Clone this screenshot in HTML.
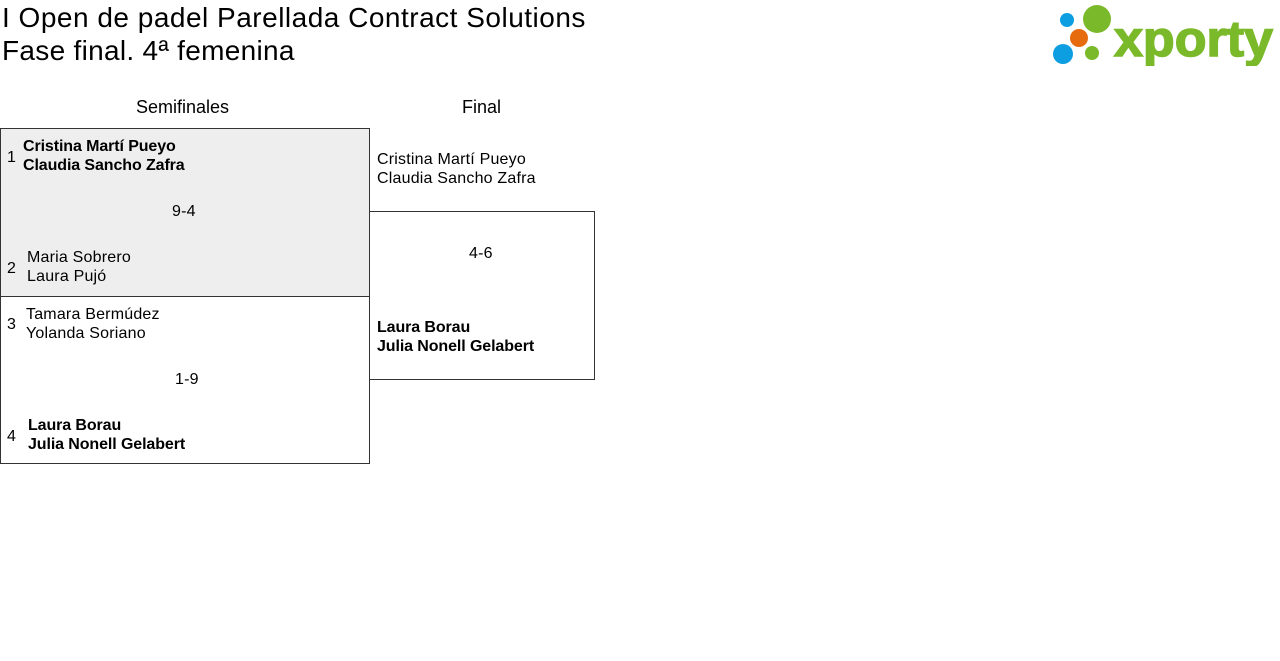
<!DOCTYPE html>
<html><head><meta charset="utf-8"><style>
body{margin:0;width:1280px;height:661px;background:#fff;font-family:"Liberation Sans",sans-serif;color:#000;position:relative;overflow:hidden}
.a{position:absolute;white-space:nowrap}
.t{font-size:28px;line-height:33px;left:2px}
.h{font-size:18px;line-height:20px}
.n{font-size:16px;line-height:19px;letter-spacing:0.2px}
.b{font-weight:bold;letter-spacing:-0.1px}
.box{position:absolute;border:1px solid #333;box-sizing:border-box}
</style></head><body>
<div class="a t" style="top:1px;letter-spacing:0.5px">I Open de padel Parellada Contract Solutions</div>
<div class="a t" style="top:34px;letter-spacing:0.3px">Fase final. 4ª femenina</div>
<svg class="a" style="left:1050px;top:4px" width="226" height="62">
<circle cx="17" cy="16" r="7" fill="#0d9ee2"/>
<circle cx="47" cy="15" r="14" fill="#7ab929"/>
<circle cx="29" cy="34" r="9" fill="#e56b0e"/>
<circle cx="13" cy="50" r="10" fill="#0d9ee2"/>
<circle cx="42" cy="49" r="7" fill="#7ab929"/>
<text x="64" y="52" font-family="Liberation Sans,sans-serif" font-weight="bold" font-size="50" fill="#7ab929" stroke="#7ab929" stroke-width="1.5" textLength="159" lengthAdjust="spacingAndGlyphs">xporty</text>
</svg>
<div class="a h" style="left:136px;top:97px">Semifinales</div>
<div class="a h" style="left:462px;top:97px">Final</div>
<div class="box" style="left:0;top:128px;width:370px;height:169px;background:#eee"></div>
<div class="box" style="left:0;top:296px;width:370px;height:168px"></div>
<div class="box" style="left:369px;top:211px;width:226px;height:169px"></div>
<div class="a n" style="left:7px;top:148px">1</div>
<div class="a n b" style="left:23px;top:137px">Cristina Martí Pueyo<br>Claudia Sancho Zafra</div>
<div class="a n" style="left:172px;top:202px">9-4</div>
<div class="a n" style="left:7px;top:259px">2</div>
<div class="a n" style="left:27px;top:248px">Maria Sobrero<br>Laura Pujó</div>
<div class="a n" style="left:7px;top:315px">3</div>
<div class="a n" style="left:26px;top:305px">Tamara Bermúdez<br>Yolanda Soriano</div>
<div class="a n" style="left:175px;top:370px">1-9</div>
<div class="a n" style="left:7px;top:427px">4</div>
<div class="a n b" style="left:28px;top:416px">Laura Borau<br>Julia Nonell Gelabert</div>
<div class="a n" style="left:377px;top:150px">Cristina Martí Pueyo<br>Claudia Sancho Zafra</div>
<div class="a n" style="left:469px;top:244px">4-6</div>
<div class="a n b" style="left:377px;top:318px">Laura Borau<br>Julia Nonell Gelabert</div>
</body></html>
